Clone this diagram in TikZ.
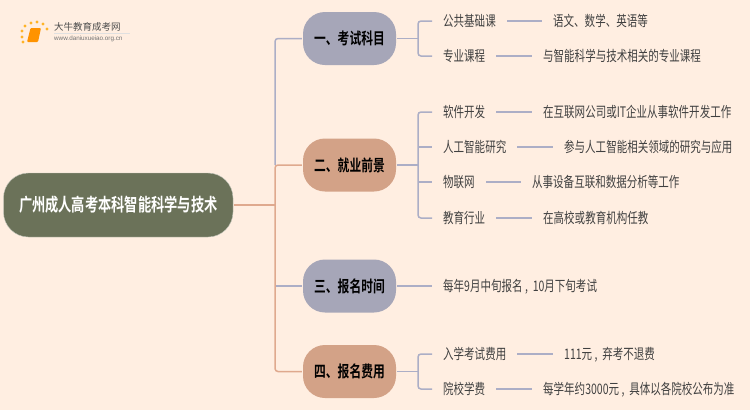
\documentclass[tikz,border=0pt]{standalone}
\usepackage{fontspec}
\setmainfont{Noto Sans CJK SC}
\newfontfamily\latinf{Liberation Sans}
\newfontfamily\leaff[FakeStretch=0.725]{Noto Sans CJK SC}
\newfontfamily\headf[FakeStretch=0.735,BoldFont={Noto Sans CJK SC Bold}]{Noto Sans CJK SC}
\definecolor{bgc}{HTML}{FFEEE1}
\definecolor{rootc}{HTML}{6B7259}
\definecolor{bluec}{HTML}{A6A6B8}
\definecolor{salmc}{HTML}{D3A287}
\definecolor{linebl}{HTML}{ACAEC6}
\definecolor{linesa}{HTML}{DFA98E}
\definecolor{txtc}{HTML}{404040}
\tikzset{
 rootn/.style={draw=white!60!rootc,line width=.4pt,fill=rootc,rounded corners=25pt,minimum width=229.5pt,minimum height=64pt,inner sep=0pt,text=white,font=\headf\fontsize{18}{20}\selectfont\bfseries},
 catn/.style={draw=none,rounded corners=22pt,minimum width=93pt,minimum height=53pt,inner sep=0pt,text=black,font=\headf\fontsize{16}{18}\selectfont\bfseries},
 catb/.style={catn,fill=bluec},
 cats/.style={catn,fill=salmc},
 leafn/.style={anchor=west,inner sep=0pt,text=txtc,font=\leaff\fontsize{14.5}{17}\selectfont,text height=13pt,text depth=2pt},
 conn/.style={line width=1.5pt,rounded corners=3pt},
 cb/.style={conn,draw=linebl},
 cs/.style={conn,draw=linesa},
}
\begin{document}
\begin{tikzpicture}[x=1pt,y=-1pt]
\useasboundingbox (0,0) rectangle (750,410);
\fill[bgc] (0,0) rectangle (750,410);
% logo
\foreach \a/\b in {25/26,31/23,37/22,43/24,47/29,22/31,22/37,23/42}{\fill[orange!70!yellow!85!white] (\a,\b) circle (1.6pt);}
\fill[orange!85!yellow,rounded corners=1pt] (30.5,28) -- (41,28) -- (38,42) -- (27,42) -- cycle;
\fill[black!12] (54,33.2) rectangle (130,33.8);
\node[inner sep=0pt,anchor=west,text=black!70,font=\fontsize{9.5}{11}\selectfont] (lg) at (54,27) {大牛教育成考网};
\node[inner sep=0pt,anchor=west,text=black!55,font=\latinf\fontsize{6.3}{7}\selectfont] (lgs) at (54,39) {www.daniuxueiao.org.cn};
% nodes
\node[rootn] (root) at (118.25,205) {广州成人高考本科智能科学与技术};
\node[catb] (c1) at (349.5,38.5) {一、考试科目};
\node[cats] (c2) at (349.5,165) {二、就业前景};
\node[catb] (c3) at (349.5,286) {三、报名时间};
\node[cats] (c4) at (349.5,371.5) {四、报名费用};
\coordinate (t) at (275,205);
% trunk
\draw[cb] ([xshift=-1pt]c1.west) -- (275,38.5) -- (275,165);
\draw[cs] ([xshift=1pt]root.east) -- (t);
\draw[cs] ([xshift=-1pt]c2.west) -- (275,165) -- (275,371.5) -- ([xshift=-1pt]c4.west);
\draw[cb] ([xshift=-1pt]c3.west) -- (276,286);
% branch lines
\coordinate (b1) at (418,38.5);
\coordinate (b2) at (418,165);
\coordinate (b4) at (418,371.5);
\newcommand{\leafrow}[7]{%
 \node[leafn] (#1a) at (#2,#4) {#3};
 \node[leafn] (#1b) at (#6,#4) {#7};
 \coordinate (#1s) at (#5,#4);
 \draw[cb] (#1s) -- ([xshift=-11pt]#1b.west);
}
\leafrow{a}{443}{公共基础课}{21}{507}{553}{语文、数学、英语等}
\leafrow{b}{443}{专业课程}{56}{496}{543}{与智能科学与技术相关的专业课程}
\leafrow{d}{443}{软件开发}{112}{496}{543}{在互联网公司或IT企业从事软件开发工作}
\leafrow{e}{443}{人工智能研究}{147}{517}{564}{参与人工智能相关领域的研究与应用}
\leafrow{f}{443}{物联网}{182}{486}{532}{从事设备互联和数据分析等工作}
\leafrow{g}{443}{教育行业}{218}{496}{543}{在高校或教育机构任教}
\leafrow{h}{443}{入学考试费用}{354}{517}{564}{111元\,,\,\,弃考不退费}
\leafrow{i}{443}{院校学费}{389}{496}{543}{每学年约3000元\,,\,\,具体以各院校公布为准}
\node[leafn] (cc) at (443,286) {每年9月中旬报名\,,\,\,10月下旬考试};
\draw[cb] ([xshift=1pt]c1.east) -- (b1);
\draw[cb] ([xshift=1pt]c2.east) -- (b2);
\draw[cb] ([xshift=1pt]c3.east) -- ([xshift=-11pt]cc.west);
\draw[cb] ([xshift=1pt]c4.east) -- (b4);
\draw[cb] ([xshift=-11pt]aa.west) -- (418,21) -- (418,56) -- ([xshift=-11pt]ba.west);
\draw[cb] ([xshift=-11pt]da.west) -- (418,112) -- (418,218) -- ([xshift=-11pt]ga.west);
\draw[cb] (418,147) -- ([xshift=-11pt]ea.west);
\draw[cb] (418,182) -- ([xshift=-11pt]fa.west);
\draw[cb] ([xshift=-11pt]ha.west) -- (418,354) -- (418,389) -- ([xshift=-11pt]ia.west);
\end{tikzpicture}
\end{document}
